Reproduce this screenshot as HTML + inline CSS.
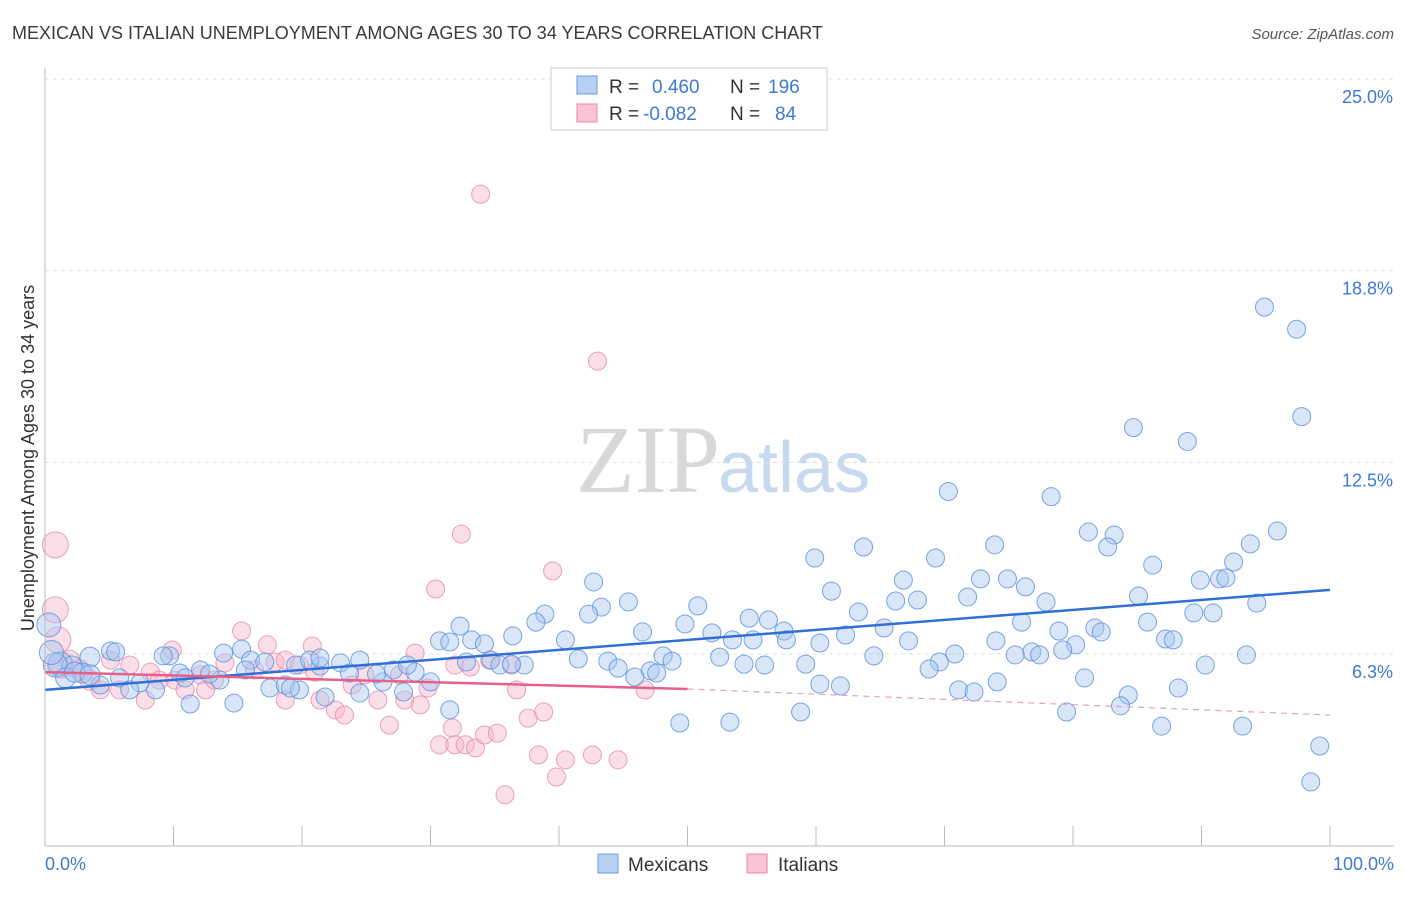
<!DOCTYPE html>
<html><head><meta charset="utf-8"><style>
body{margin:0;background:#fff;font-family:"Liberation Sans",sans-serif}
#c{position:relative;width:1406px;height:892px}
</style></head><body>
<div id="c">
<svg id="svg" width="1406" height="892" xmlns="http://www.w3.org/2000/svg">
<text x="12" y="39" font-size="18" fill="#3a3a3a">MEXICAN VS ITALIAN UNEMPLOYMENT AMONG AGES 30 TO 34 YEARS CORRELATION CHART</text>
<text x="1394" y="39" font-size="15" fill="#555" font-style="italic" text-anchor="end">Source: ZipAtlas.com</text>
<text x="720" y="492" font-size="96" fill="#d8d8d8" text-anchor="end" font-family="Liberation Serif,serif">ZIP</text>
<text x="718" y="492" font-size="72" fill="#c7d9f0">atlas</text>
<text transform="translate(34,458) rotate(-90)" font-size="18" fill="#333" text-anchor="middle">Unemployment Among Ages 30 to 34 years</text>
<g id="grid"></g><g id="pts"></g><g id="lines"></g>
<line x1="45" y1="68" x2="45" y2="846" stroke="#bbb"/>
<line x1="45" y1="846" x2="1394" y2="846" stroke="#bbb"/>
<g id="xt"></g>
<text x="45" y="870" font-size="18" fill="#3d7ad6">0.0%</text>
<text x="1394" y="870" font-size="18" fill="#3d7ad6" text-anchor="end">100.0%</text>
<g>
<rect x="551" y="68" width="276" height="62" fill="#fff" stroke="#ccc"/>
<rect x="577" y="76" width="20" height="18" fill="#b8d1f3" stroke="#6b9be0"/>
<rect x="577" y="104" width="20" height="18" fill="#f9c4d4" stroke="#e88aa8"/>
<text x="609" y="93" font-size="19" fill="#333">R =</text><text x="652" y="93" font-size="19" fill="#3d7ad6">0.460</text>
<text x="730" y="93" font-size="19" fill="#333">N =</text><text x="768" y="93" font-size="19" fill="#3d7ad6">196</text>
<text x="609" y="120" font-size="19" fill="#333">R =</text><text x="643" y="120" font-size="19" fill="#3d7ad6">-0.082</text>
<text x="730" y="120" font-size="19" fill="#333">N =</text><text x="775" y="120" font-size="19" fill="#3d7ad6">84</text>
</g>
<g>
<rect x="598" y="854" width="20" height="19" fill="#b8d1f3" stroke="#6b9be0"/>
<text x="628" y="871" font-size="19" fill="#333">Mexicans</text>
<rect x="747" y="854" width="20" height="19" fill="#f9c4d4" stroke="#e88aa8"/>
<text x="778" y="871" font-size="19" fill="#333">Italians</text>
</g>
</svg></div>
<script>
const yTicks=[25.0,18.75,12.5,6.25];
const yTickLabels=["25.0%","18.8%","12.5%","6.3%"];
const blueX=[94.9,97.4,97.8,84.7,88.9,70.3,78.3,81.2,83.2,82.7,95.9,93.8,59.9,63.7,69.3,73.9,86.2,92.5,89.9,91.4,91.9,72.8,74.9,76.3,66.8,61.2,42.7,85.1,71.8,77.9,94.3,89.4,90.9,45.4,43.3,38.9,38.2,50.8,54.8,56.3,63.3,67.9,66.2,42.3,32.3,76.0,85.8,49.8,78.9,81.7,82.2,46.5,40.5,51.9,57.5,57.7,62.3,65.3,67.2,74.0,80.2,87.2,87.8,33.2,30.7,31.5,36.4,34.2,34.7,37.3,60.3,53.5,55.1,64.5,70.8,76.8,77.4,79.2,93.5,41.5,43.8,48.1,48.8,52.5,54.4,56.0,59.2,69.6,75.5,44.6,47.1,47.6,45.9,35.4,36.3,32.8,90.3,80.9,74.1,68.8,71.1,72.3,60.3,61.9,84.3,88.2,83.7,49.4,53.3,58.8,79.5,86.9,93.2,99.2,98.5,31.5,11.3,14.7,24.5,27.9,21.8,17.5,18.7,19.8,26.3,30.0,28.8,21.4,23.0,24.5,25.8,27.1,28.2,15.3,13.9,13.6,12.1,10.5,9.7,9.2,5.1,3.5,5.5,1.2,2.1,2.9,4.3,5.8,7.4,8.6,6.6,16.0,17.1,19.5,20.6,21.4,23.7,15.6,0.8,1.6,2.3,3.5,10.9,12.8,19.1,0.3,0.5];
const blueY=[17.56,16.84,13.99,13.63,13.18,11.55,11.38,10.23,10.13,9.74,10.26,9.84,9.38,9.74,9.38,9.81,9.15,9.25,8.66,8.70,8.73,8.70,8.70,8.44,8.66,8.30,8.60,8.14,8.11,7.95,7.91,7.59,7.59,7.95,7.78,7.55,7.29,7.82,7.42,7.36,7.62,8.01,7.98,7.55,7.16,7.29,7.29,7.23,7.00,7.10,6.97,6.97,6.71,6.94,7.00,6.71,6.87,7.10,6.68,6.68,6.55,6.74,6.71,6.71,6.68,6.64,6.84,6.58,6.05,5.89,6.61,6.71,6.71,6.19,6.25,6.32,6.22,6.38,6.22,6.09,6.02,6.19,6.02,6.15,5.92,5.89,5.92,5.99,6.22,5.79,5.70,5.63,5.50,5.89,5.92,5.99,5.89,5.47,5.34,5.76,5.08,5.01,5.27,5.21,4.91,5.14,4.56,4.00,4.03,4.36,4.36,3.90,3.90,3.25,2.08,4.43,4.62,4.65,4.98,5.01,4.85,5.14,5.24,5.08,5.34,5.34,5.66,5.86,5.96,6.05,5.60,5.73,5.89,6.41,6.28,5.40,5.73,5.63,6.19,6.19,6.35,6.15,6.32,5.92,5.86,5.63,5.24,5.47,5.31,5.08,5.08,6.05,5.99,5.89,6.05,6.12,5.63,5.73,5.89,5.47,5.66,5.57,5.47,5.60,5.14,7.2,6.3];
const pinkX=[33.9,43.0,32.4,39.5,30.4,15.3,17.3,20.8,28.8,9.9,0.8,0.8,1.0,1.2,1.9,2.7,3.5,4.3,5.1,5.8,6.6,7.8,8.2,8.9,10.1,10.9,12.1,12.5,13.2,14.0,16.3,17.9,18.7,19.8,21.0,22.6,23.3,23.9,24.9,25.9,26.8,27.6,28.0,29.2,29.8,31.9,33.1,34.6,36.3,36.7,30.7,31.7,31.9,32.7,33.5,34.2,35.2,35.8,37.6,38.8,38.4,39.8,40.5,42.6,44.6,46.7,18.7,21.4];
const pinkY=[21.24,15.80,10.16,8.96,8.37,7.00,6.55,6.51,6.28,6.38,9.81,7.69,6.71,5.89,6.05,5.73,5.40,5.08,6.05,5.08,5.89,4.75,5.66,5.40,5.40,5.08,5.57,5.08,5.40,5.96,5.73,5.99,6.05,5.89,5.66,4.43,4.26,5.24,5.57,4.75,3.93,5.57,4.75,4.59,5.14,5.89,5.83,6.05,5.89,5.08,3.29,3.84,3.29,3.29,3.19,3.61,3.67,1.66,4.16,4.36,2.96,2.24,2.80,2.96,2.80,5.08,4.75,4.75];
const blueTrend=[5.08,8.34];
const pinkTrend=[5.66,5.11,4.26];
const xTicks=[0,10,20,30,40,50,60,70,80,90,100];
const NS="http://www.w3.org/2000/svg";
const sx=v=>45+v*12.85, sy=v=>845.7-v*30.67;
function mk(t,a,p){const e=document.createElementNS(NS,t);for(const k in a)e.setAttribute(k,a[k]);p.appendChild(e);return e;}
const g=document.getElementById('grid');
yTicks.forEach((t,i)=>{
 const l=mk('line',{x1:45,x2:1394,y1:sy(t),y2:sy(t),stroke:'#ddd','stroke-dasharray':'4,4'},g);
 
 
 const tx=mk('text',{x:1393,y:sy(t)+24,'font-size':18,fill:'#3d7ad6','text-anchor':'end'},g);
 tx.textContent=yTickLabels[i];
 
 
});
const xt=document.getElementById('xt');
xTicks.forEach(t=>{const l=mk('line',{x1:sx(t),x2:sx(t),y1:826,y2:846,stroke:'#bbb'},xt);
 
 });
const P=document.getElementById('pts');
function pts(X,Y,fill,stroke,name){X.forEach((x,i)=>{
 const r=x<1.5?(name==='italian-point'?13:12):(x<4?10:9);
 const c=mk('circle',{cx:sx(x),cy:sy(Y[i]),r:r,fill:fill,'fill-opacity':0.45,stroke:stroke,'stroke-opacity':0.8,'stroke-width':1},P);
 
 });}
pts(pinkX,pinkY,'#f7b8cb','#e88aa8','italian-point');
pts(blueX,blueY,'#a9c7ef','#5b8fdc','mexican-point');
const L=document.getElementById('lines');
const b=mk('line',{x1:sx(0),y1:sy(blueTrend[0]),x2:sx(100),y2:sy(blueTrend[1]),stroke:'#2f6fd6','stroke-width':2.5},L);


const p1=mk('line',{x1:sx(0),y1:sy(pinkTrend[0]),x2:sx(50),y2:sy(pinkTrend[1]),stroke:'#e8608a','stroke-width':2.5},L);


const p2=mk('line',{x1:sx(50),y1:sy(pinkTrend[1]),x2:sx(100),y2:sy(pinkTrend[2]),stroke:'#e8a0b8','stroke-width':1.2,'stroke-dasharray':'6,5'},L);


</script>
</body></html>
